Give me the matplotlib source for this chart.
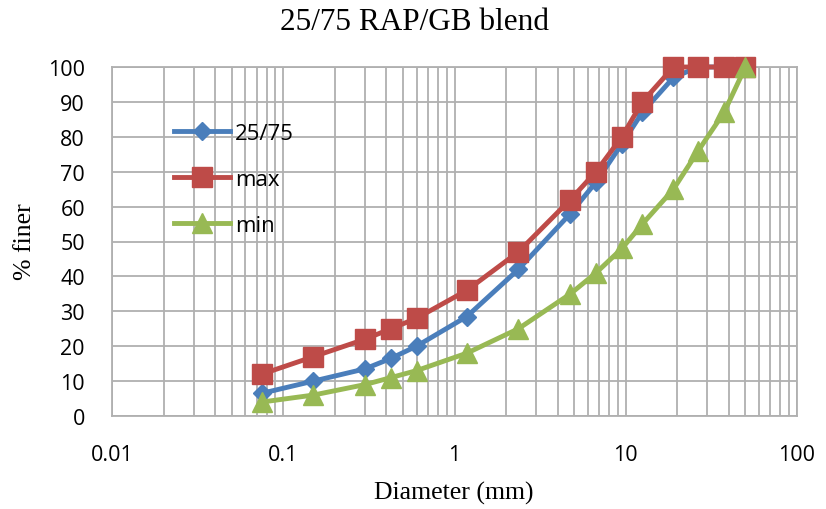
import matplotlib
matplotlib.use("Agg")
import matplotlib.pyplot as plt
from matplotlib.ticker import LogLocator, FixedLocator, NullFormatter

sizes = [0.075, 0.15, 0.3, 0.425, 0.6, 1.18, 2.36, 4.75, 6.7, 9.5, 12.5, 19, 26.5, 37.5, 50]
blend = [6.5, 10, 13.5, 16.5, 20, 28.5, 42, 58, 67, 78, 87, 97, 100, 100, 100]
vmax = [12, 17, 22, 25, 28, 36, 47, 62, 70, 80, 90, 100, 100, 100, 100]
vmin = [4, 6, 9, 11, 13, 18, 25, 35, 41, 48, 55, 65, 76, 87, 100]
xticks = [0.01, 0.1, 1, 10, 100]
xticklabels = ["0.01", "0.1", "1", "10", "100"]
yticks = list(range(0, 101, 10))

fig = plt.figure(figsize=(8.26, 5.10), dpi=100)
ax = fig.add_axes([112/826, 1 - 417/510, (797-112)/826, (417-68)/510])

ax.plot(sizes, blend, color="#4a7ebb", lw=3.5, marker="D", ms=9, label="25/75", zorder=3, clip_on=False)
ax.plot(sizes, vmax, color="#be4b48", lw=3.5, marker="s", ms=14, label="max", zorder=4, clip_on=False)
ax.plot(sizes, vmin, color="#98b954", lw=3.5, marker="^", ms=15, label="min", zorder=5, clip_on=False)

ax.set_xscale("log")
ax.set_xlim(0.01, 100)
ax.set_ylim(0, 100)
ax.xaxis.set_major_locator(FixedLocator(xticks))
ax.set_xticklabels(xticklabels)
ax.xaxis.set_minor_locator(LogLocator(base=10, subs=range(2, 10)))
ax.xaxis.set_minor_formatter(NullFormatter())
ax.set_yticks(yticks)

ax.grid(True, which="both", axis="x", color="#b0b0b0", lw=1.3)
ax.grid(True, which="major", axis="y", color="#b0b0b0", lw=1.3)
ax.set_axisbelow(True)
for s in ax.spines.values():
    s.set_color("#b0b0b0")
    s.set_linewidth(1.3)
ax.tick_params(which="both", length=0)
ax.tick_params(axis="x", pad=20)
ax.tick_params(axis="y", pad=19.5)
for lab in ax.get_xticklabels() + ax.get_yticklabels():
    lab.set_fontfamily("Open Sans")
    lab.set_fontsize(15.5)

fig.text(414/826, 1 - 22/510, "25/75 RAP/GB blend", fontfamily="Liberation Serif",
         fontsize=22.5, ha="center", va="center")
fig.text(454/826, 1 - 493/510, "Diameter (mm)", fontfamily="Liberation Serif",
         fontsize=18.5, ha="center", va="center")
fig.text(25/826, 1 - 242/510, "% finer", fontfamily="Liberation Serif",
         fontsize=18.5, ha="center", va="center", rotation=90)

leg = ax.legend(loc="upper left", bbox_to_anchor=(0.062, 0.897), frameon=False,
                prop={"family": "Open Sans", "size": 16}, handlelength=2.5,
                labelspacing=1.12, handletextpad=0.22)

fig.savefig("out.png", dpi=100)
